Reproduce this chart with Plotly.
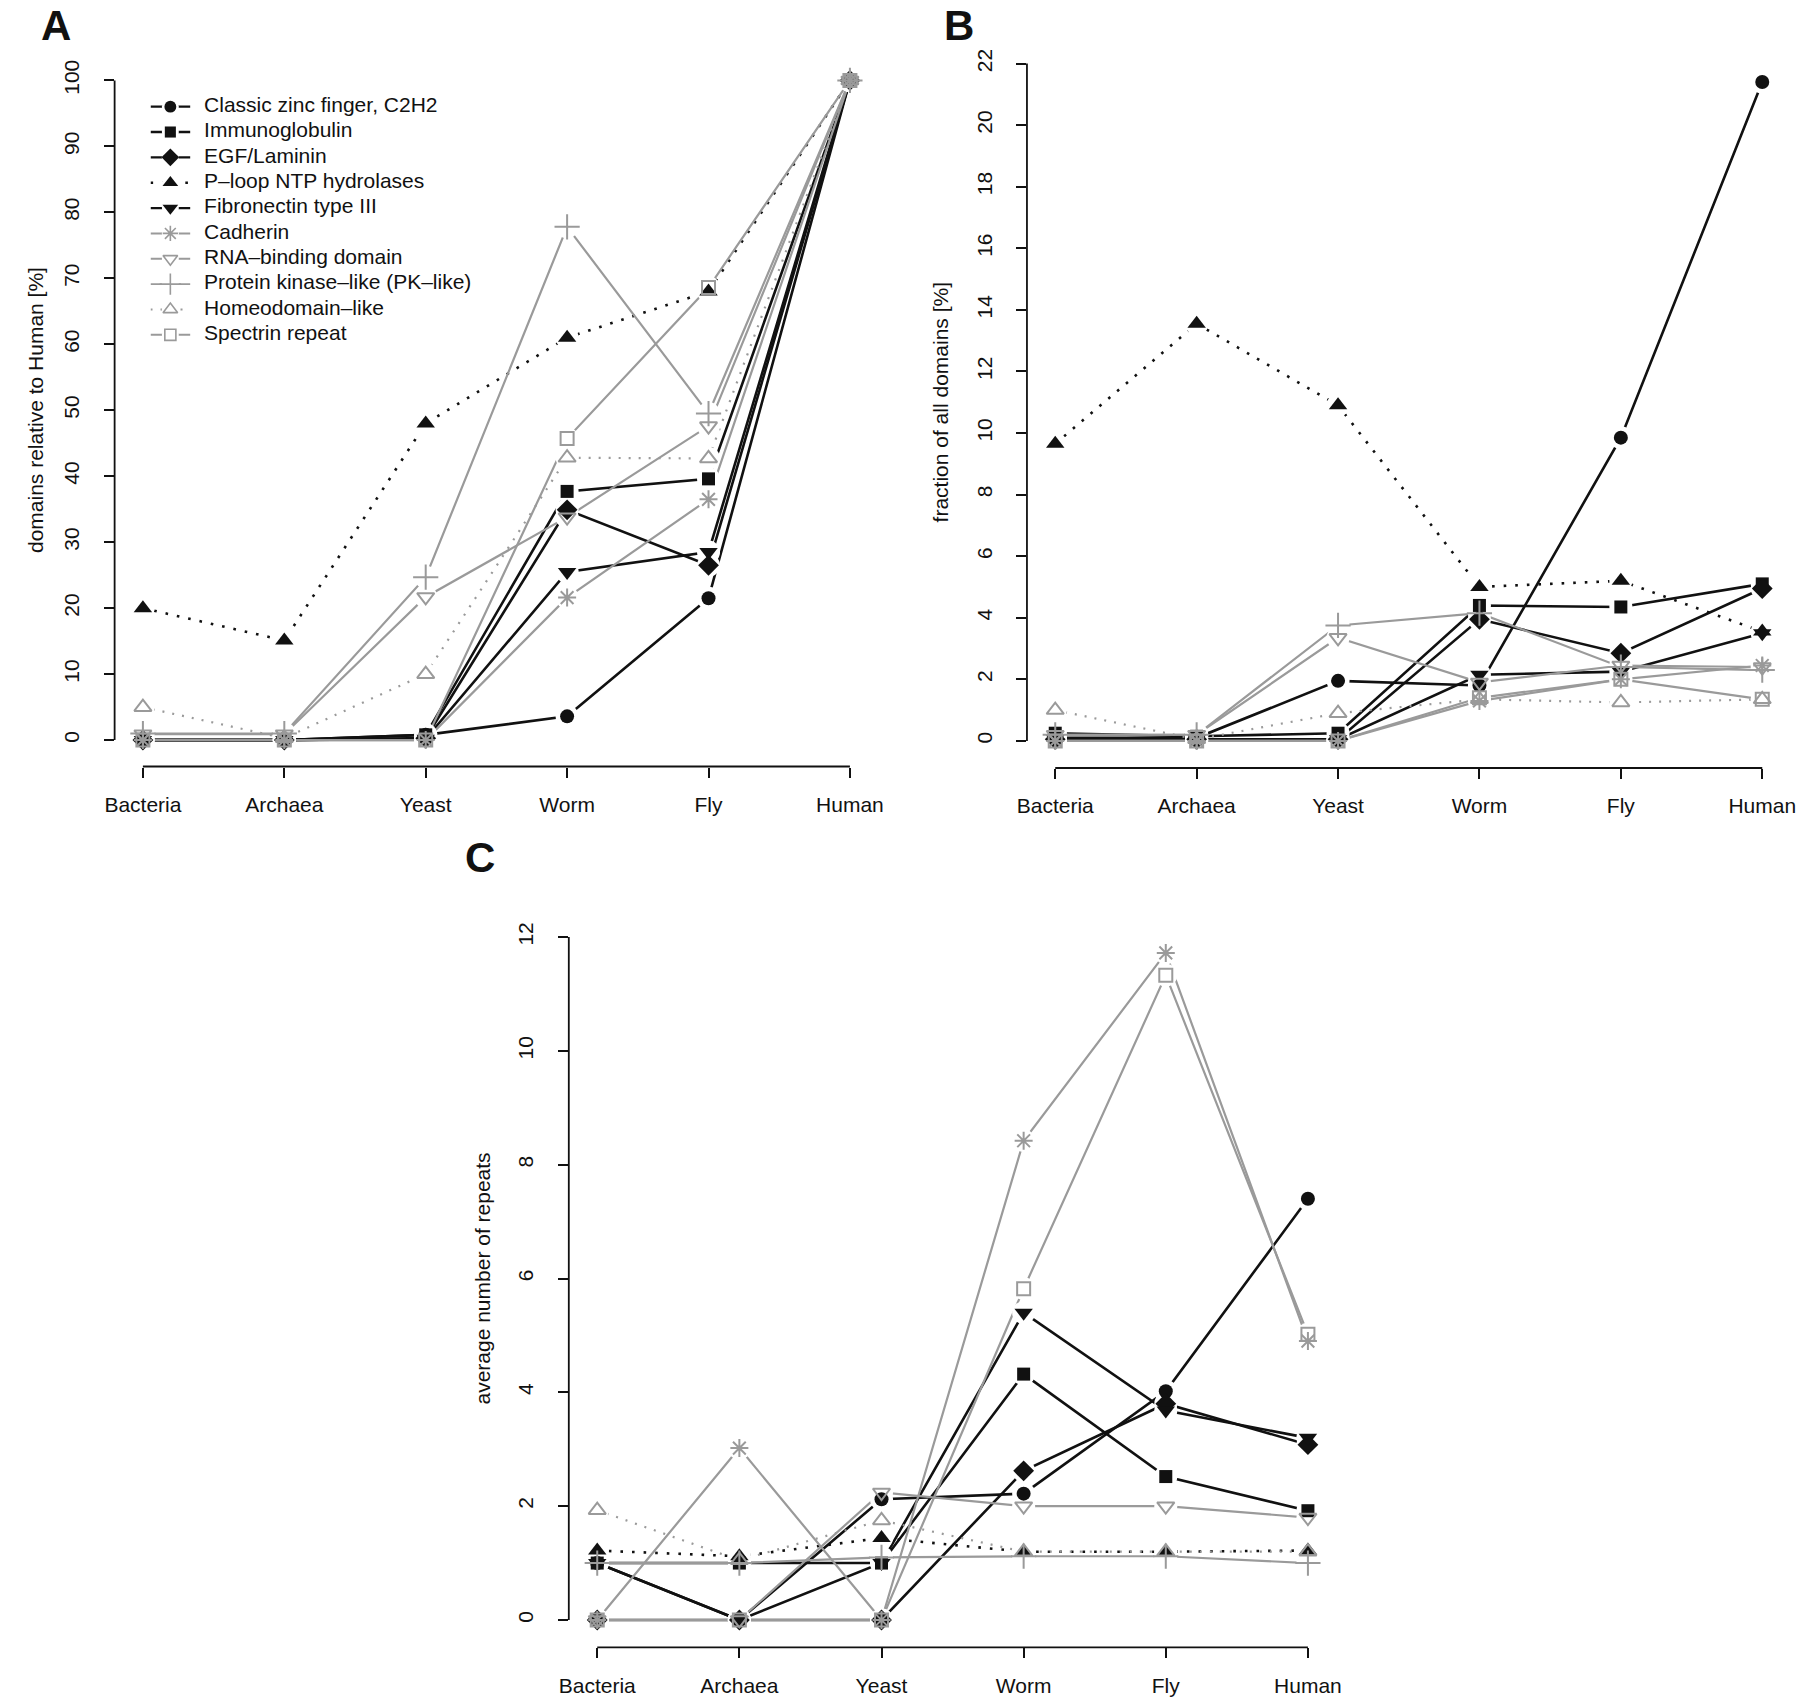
import plotly.graph_objects as go

W, H = 1800, 1697

categories = ["Bacteria", "Archaea", "Yeast", "Worm", "Fly", "Human"]

series_names = [
    "Classic zinc finger, C2H2",
    "Immunoglobulin",
    "EGF/Laminin",
    "P\u2013loop NTP hydrolases",
    "Fibronectin type III",
    "Cadherin",
    "RNA\u2013binding domain",
    "Protein kinase\u2013like (PK\u2013like)",
    "Homeodomain\u2013like",
    "Spectrin repeat",
]

# Panel A: domains relative to Human [%]
a_zinc = [0, 0, 0.8, 3.6, 21.5, 100]
a_immuno = [0, 0, 0.8, 37.7, 39.6, 100]
a_egf = [0, 0, 0.3, 34.9, 26.5, 100]
a_ploop = [20.0, 15.1, 48.0, 61.0, 68.0, 100]
a_fibro = [0, 0, 0.2, 25.5, 28.5, 100]
a_cadherin = [0, 0, 0, 21.6, 36.5, 100]
a_rna = [0.9, 0.9, 21.7, 33.8, 47.6, 100]
a_pk = [1.0, 1.0, 24.7, 77.8, 49.5, 100]
a_homeo = [5.0, 0.3, 10.0, 42.8, 42.7, 100]
a_spectrin = [0, 0, 0, 45.7, 68.6, 100]

# Panel B: fraction of all domains [%]
b_zinc = [0.1, 0.1, 1.95, 1.8, 9.85, 21.4]
b_immuno = [0.25, 0.15, 0.25, 4.4, 4.35, 5.1]
b_egf = [0.05, 0.05, 0.05, 3.95, 2.85, 4.95]
b_ploop = [9.65, 13.55, 10.9, 5.0, 5.2, 3.55]
b_fibro = [0.05, 0.05, 0.05, 2.15, 2.25, 3.5]
b_cadherin = [0, 0, 0, 1.3, 2.0, 2.45]
b_rna = [0.2, 0.2, 3.35, 1.9, 2.45, 2.4]
b_pk = [0.2, 0.2, 3.75, 4.15, 2.4, 2.3]
b_homeo = [1.0, 0.05, 0.9, 1.35, 1.25, 1.35]
b_spectrin = [0, 0, 0, 1.4, 2.0, 1.35]

# Panel C: average number of repeats
c_zinc = [1.0, 0, 2.12, 2.22, 4.02, 7.4]
c_immuno = [1.0, 1.0, 1.0, 4.32, 2.52, 1.92]
c_egf = [0, 0, 0, 2.62, 3.8, 3.08]
c_ploop = [1.22, 1.12, 1.44, 1.2, 1.2, 1.22]
c_fibro = [1.0, 0, 1.0, 5.4, 3.68, 3.2]
c_cadherin = [0, 3.02, 0, 8.42, 11.72, 4.9]
c_rna = [0, 0, 2.24, 2.0, 2.0, 1.8]
c_pk = [1.0, 1.0, 1.1, 1.12, 1.12, 1.0]
c_homeo = [1.93, 1.05, 1.75, 1.2, 1.2, 1.2]
c_spectrin = [0, 0, 0, 5.82, 11.33, 5.02]

panel_a = [a_zinc, a_immuno, a_egf, a_ploop, a_fibro, a_cadherin, a_rna, a_pk, a_homeo, a_spectrin]
panel_b = [b_zinc, b_immuno, b_egf, b_ploop, b_fibro, b_cadherin, b_rna, b_pk, b_homeo, b_spectrin]
panel_c = [c_zinc, c_immuno, c_egf, c_ploop, c_fibro, c_cadherin, c_rna, c_pk, c_homeo, c_spectrin]

a_ticks = [0, 10, 20, 30, 40, 50, 60, 70, 80, 90, 100]
b_ticks = [0, 2, 4, 6, 8, 10, 12, 14, 16, 18, 20, 22]
c_ticks = [0, 2, 4, 6, 8, 10, 12]

a_title = "domains relative to Human [%]"
b_title = "fraction of all domains [%]"
c_title = "average number of repeats"

BLACK = "#111111"
GRAY = "#9a9a9a"
styles = [
    dict(color=BLACK, sym="circle", size=14, dash="solid", lw=2.6),
    dict(color=BLACK, sym="square", size=13, dash="solid", lw=2.6),
    dict(color=BLACK, sym="diamond", size=16, dash="solid", lw=2.6),
    dict(color=BLACK, sym="triangle-up", size=16, dash="2.6px,9px", lw=2.6),
    dict(color=BLACK, sym="triangle-down", size=16, dash="solid", lw=2.6),
    dict(color=GRAY, sym="asterisk-open", size=15, dash="solid", lw=2.2),
    dict(color=GRAY, sym="triangle-down-open", size=15, dash="solid", lw=2.2),
    dict(color=GRAY, sym="cross-thin-open", size=18, dash="solid", lw=2.2),
    dict(color=GRAY, sym="triangle-up-open", size=15, dash="2px,8px", lw=2.2),
    dict(color=GRAY, sym="square-open", size=13, dash="solid", lw=2.2),
]

FONT = "Liberation Sans, Arial, Helvetica, sans-serif"
fig = go.Figure()

def px_x(p):
    return p / W

def px_y(p):
    return 1 - p / H

panels = [
    dict(data=panel_a, ticks=a_ticks, xa="x", ya="y", xd=(105.5, 875.5), yd=(54.0, 766.5), title=a_title, tx=25),
    dict(data=panel_b, ticks=b_ticks, xa="x2", ya="y2", xd=(1025.5, 1795.5), yd=(36.5, 768.0), title=b_title, tx=938),
    dict(data=panel_c, ticks=c_ticks, xa="x3", ya="y3", xd=(563.5, 1337.5), yd=(909.7, 1647.3), title=c_title, tx=476),
]

HALO = 23

for p in panels:
    for s, vals in zip(styles, p["data"]):
        fig.add_trace(go.Scatter(x=categories, y=vals, mode="lines", xaxis=p["xa"], yaxis=p["ya"],
                                 line=dict(color=s["color"], width=s["lw"], dash=s["dash"]),
                                 showlegend=False, hoverinfo="skip", cliponaxis=False))
    for s, vals in zip(styles, p["data"]):
        fig.add_trace(go.Scatter(x=categories, y=vals, mode="markers", xaxis=p["xa"], yaxis=p["ya"],
                                 marker=dict(symbol="circle", size=HALO, color="white", line=dict(width=0)),
                                 showlegend=False, hoverinfo="skip", cliponaxis=False))
    for s, vals in zip(styles, p["data"]):
        fig.add_trace(go.Scatter(x=categories, y=vals, mode="markers", xaxis=p["xa"], yaxis=p["ya"],
                                 marker=dict(symbol=s["sym"], size=s["size"], color=s["color"],
                                             line=dict(width=2 if "open" in s["sym"] else 0, color=s["color"])),
                                 showlegend=False, cliponaxis=False))

# legend panel (drawn through its own hidden axes; rows follow series order)
rows = list(range(len(series_names)))
sample_x = [0, 0.5, 1]
for i, s in zip(rows, styles):
    fig.add_trace(go.Scatter(x=sample_x, y=[i] * 3, mode="lines", xaxis="x4", yaxis="y4",
                             line=dict(color=s["color"], width=s["lw"] * 0.9, dash=s["dash"]),
                             showlegend=False, hoverinfo="skip", cliponaxis=False))
for i, s in zip(rows, styles):
    fig.add_trace(go.Scatter(x=[sample_x[1]], y=[i], mode="markers", xaxis="x4", yaxis="y4",
                             marker=dict(symbol="circle", size=17, color="white"),
                             showlegend=False, hoverinfo="skip", cliponaxis=False))
    fig.add_trace(go.Scatter(x=[sample_x[1]], y=[i], mode="markers", xaxis="x4", yaxis="y4",
                             marker=dict(symbol=s["sym"], size=s["size"] * 0.85, color=s["color"],
                                         line=dict(width=1.6 if "open" in s["sym"] else 0, color=s["color"])),
                             showlegend=False, hoverinfo="skip", cliponaxis=False))
fig.add_trace(go.Scatter(x=[1.35] * len(rows), y=rows, mode="text", text=series_names,
                         textposition="middle right", xaxis="x4", yaxis="y4",
                         textfont=dict(family=FONT, size=21, color=BLACK),
                         showlegend=False, hoverinfo="skip", cliponaxis=False))

layout = dict(
    width=W, height=H, paper_bgcolor="white", plot_bgcolor="rgba(0,0,0,0)",
    margin=dict(l=0, r=0, t=0, b=0), showlegend=False,
    font=dict(family=FONT, size=21, color=BLACK),
)

shapes = []
annotations = []
for k, p in enumerate(panels):
    sfx = "" if k == 0 else str(k + 1)
    layout["xaxis" + sfx] = dict(
        domain=[px_x(p["xd"][0]), px_x(p["xd"][1])], range=[-0.2, 5.2], anchor=p["ya"],
        type="category", categoryorder="array", categoryarray=categories,
        showgrid=False, zeroline=False, showline=False,
        ticks="outside", ticklen=10, tickwidth=1.6, tickcolor=BLACK,
        tickfont=dict(family=FONT, size=21, color=BLACK), ticklabelstandoff=9,
    )
    t = p["ticks"]
    pad = (t[-1] - t[0]) * 0.04
    layout["yaxis" + sfx] = dict(
        domain=[px_y(p["yd"][1]), px_y(p["yd"][0])], range=[t[0] - pad, t[-1] + pad], anchor=p["xa"],
        tickvals=t, ticktext=[str(v) for v in t], tickangle=-90,
        showgrid=False, zeroline=False, showline=False,
        ticks="outside", ticklen=10, tickwidth=1.6, tickcolor=BLACK,
        tickfont=dict(family=FONT, size=21, color=BLACK), ticklabelstandoff=16,
    )
    shapes.append(dict(type="line", xref=p["xa"] + " domain", yref=p["ya"], x0=0, x1=0, y0=t[0], y1=t[-1],
                       line=dict(color=BLACK, width=1.8)))
    shapes.append(dict(type="line", xref=p["xa"], yref=p["ya"] + " domain", x0=categories[0], x1=categories[-1],
                       y0=0, y1=0, line=dict(color=BLACK, width=1.8)))
    annotations.append(dict(text=p["title"], x=px_x(p["tx"]), y=px_y((p["yd"][0] + p["yd"][1]) / 2),
                            xref="paper", yref="paper", textangle=-90, showarrow=False,
                            font=dict(family=FONT, size=21, color=BLACK), xanchor="center", yanchor="middle"))

layout["xaxis4"] = dict(domain=[px_x(141.7), px_x(541.7)], range=[0, 10], visible=False, anchor="y4")
layout["yaxis4"] = dict(domain=[px_y(347.5), px_y(94.0)], range=[9.5, -0.5], visible=False, anchor="x4")

for letter, lx, ly in [("A", 46, 0), ("B", 957, 0), ("C", 474, 832)]:
    annotations.append(dict(text="<b>%s</b>" % letter, x=px_x(lx), y=px_y(ly), xref="paper", yref="paper",
                            showarrow=False, xanchor="center", yanchor="top",
                            font=dict(family=FONT, size=42, color=BLACK)))

layout["shapes"] = shapes
layout["annotations"] = annotations
fig.update_layout(**layout)
fig.write_html("out.html")
